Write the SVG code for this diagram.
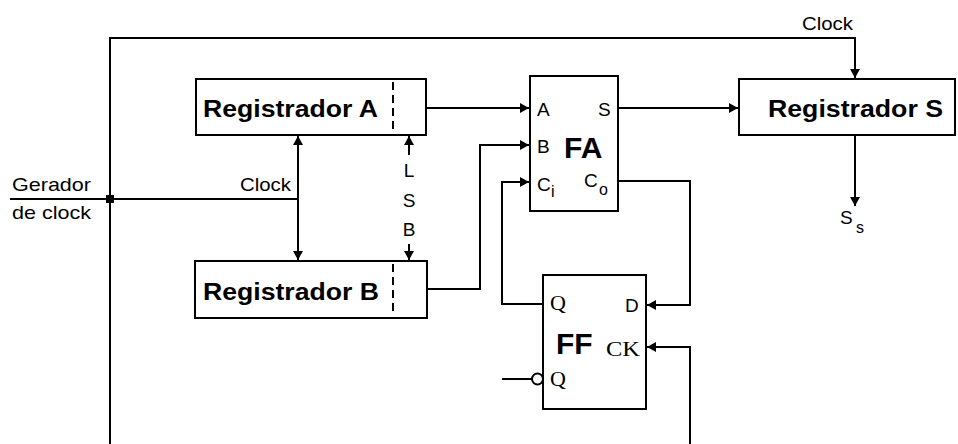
<svg xmlns="http://www.w3.org/2000/svg" width="958" height="444" viewBox="0 0 958 444">
<style>
.ln{fill:none;stroke:#000;stroke-width:2}
.bx{fill:#fff;stroke:#000;stroke-width:2}
.dash{stroke:#000;stroke-width:2;stroke-dasharray:8,5}
.big{font-family:"Liberation Sans",Arial,sans-serif;font-weight:bold;font-size:23px;fill:#000}
.huge{font-family:"Liberation Sans",Arial,sans-serif;font-weight:bold;font-size:30px;fill:#000}
.t{font-family:"Liberation Sans",Arial,sans-serif;font-size:19px;fill:#000}
.sub{font-family:"Liberation Sans",Arial,sans-serif;font-size:16px;fill:#000}
.serif{font-family:"Liberation Serif","Times New Roman",serif;font-size:22px;fill:#000}
</style>
<defs>
<marker id="arr" markerUnits="userSpaceOnUse" viewBox="0 0 9 10" markerWidth="9" markerHeight="10" refX="9" refY="5" orient="auto-start-reverse">
<path d="M0,0 L9,5 L0,10 z" fill="#000"/>
</marker>
</defs>
<rect width="958" height="444" fill="#fff"/>

<g id="connectors">
<path class="ln" d="M110,444 V38 H855 V78" marker-end="url(#arr)"/>
<path class="ln" d="M10,199 H298"/>
<rect x="106" y="195" width="8" height="8" fill="#000"/>
<path class="ln" d="M298,136 V260" marker-start="url(#arr)" marker-end="url(#arr)"/>
<path class="ln" d="M409,155 V136" marker-end="url(#arr)"/>
<path class="ln" d="M409,244 V260" marker-end="url(#arr)"/>
<path class="ln" d="M426,108 H529" marker-end="url(#arr)"/>
<path class="ln" d="M427,289 H480 V145 H529" marker-end="url(#arr)"/>
<path class="ln" d="M543,304 H502 V182 H529" marker-end="url(#arr)"/>
<path class="ln" d="M618,108 H738" marker-end="url(#arr)"/>
<path class="ln" d="M855,135 V206" marker-end="url(#arr)"/>
<path class="ln" d="M618,181 H690 V305 H647" marker-end="url(#arr)"/>
<path class="ln" d="M690,444 V347 H647" marker-end="url(#arr)"/>
<path class="ln" d="M502,379 H532"/>
</g>

<g id="gerador">
<text class="t" x="12" y="191" textLength="79" lengthAdjust="spacingAndGlyphs">Gerador</text>
<text class="t" x="12" y="219" textLength="79" lengthAdjust="spacingAndGlyphs">de clock</text>
</g>
<g id="clock-labels">
<text class="t" x="240" y="191" textLength="51" lengthAdjust="spacingAndGlyphs">Clock</text>
<text class="t" x="802" y="30" textLength="51" lengthAdjust="spacingAndGlyphs">Clock</text>
</g>
<g id="lsb">
<text class="t" x="409" y="177" text-anchor="middle">L</text>
<text class="t" x="409" y="207" text-anchor="middle">S</text>
<text class="t" x="409" y="236" text-anchor="middle">B</text>
</g>

<g id="regA">
<rect class="bx" x="196" y="79" width="230" height="56"/>
<line class="dash" x1="393" y1="82" x2="393" y2="132"/>
<text class="big" x="203" y="117" textLength="175" lengthAdjust="spacingAndGlyphs">Registrador A</text>
</g>

<g id="regB">
<rect class="bx" x="195" y="261" width="232" height="57"/>
<line class="dash" x1="393" y1="264" x2="393" y2="315"/>
<text class="big" x="203" y="300" textLength="176" lengthAdjust="spacingAndGlyphs">Registrador B</text>
</g>

<g id="regS">
<rect class="bx" x="739" y="79" width="216" height="56"/>
<text class="big" x="768" y="117" textLength="175" lengthAdjust="spacingAndGlyphs">Registrador S</text>
</g>
<g id="ss">
<text class="t" x="840" y="224">S</text>
<text class="sub" x="856" y="233">s</text>
</g>

<g id="FA">
<rect class="bx" x="530" y="76" width="88" height="135"/>
<text class="t" x="537" y="116">A</text>
<text class="t" x="598" y="116">S</text>
<text class="t" x="537" y="153">B</text>
<text class="huge" x="564" y="158">FA</text>
<text class="t" x="537" y="191">C</text>
<text class="sub" x="551" y="197">i</text>
<text class="t" x="584" y="187">C</text>
<text class="sub" x="599" y="195">o</text>
</g>

<g id="FF">
<rect class="bx" x="543" y="275" width="103" height="134"/>
<text class="serif" x="550" y="310">Q</text>
<text class="t" x="625" y="312">D</text>
<text class="huge" x="556" y="354">FF</text>
<text class="serif" x="606" y="356" textLength="34" lengthAdjust="spacingAndGlyphs">CK</text>
<circle cx="537.5" cy="379" r="5.5" fill="#fff" stroke="#000" stroke-width="2"/>
<text class="serif" x="550" y="386">Q</text>
</g>
</svg>
